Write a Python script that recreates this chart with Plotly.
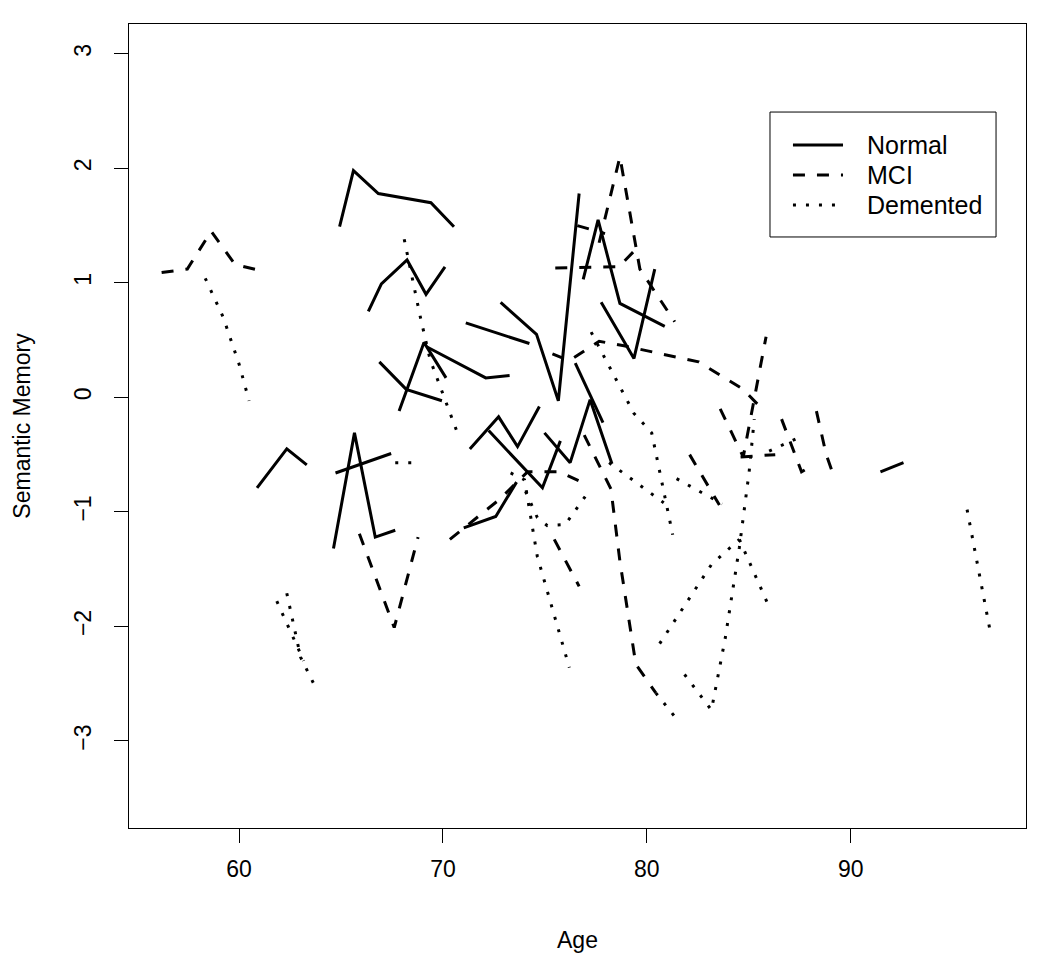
import plotly.graph_objects as go

# ---- data: each inner list is one subject's trajectory (Age, Semantic Memory) ----
normal_age = [
    [64.93, 65.61, 66.83, 69.41, 70.54],
    [66.34, 66.98, 68.24, 69.17, 70.10],
    [60.88, 62.34, 63.32],
    [64.63, 65.66, 66.68, 67.66],
    [64.73, 67.46],
    [66.88, 68.20, 69.95],
    [67.85, 69.07, 70.15],
    [69.22, 72.10, 73.27],
    [71.12, 74.24],
    [72.83, 74.59, 75.66, 76.68],
    [76.88, 77.61, 78.68, 80.88],
    [77.76, 79.37, 80.39],
    [71.32, 72.73, 73.66, 74.73],
    [72.24, 74.88, 75.76],
    [74.98, 76.24, 77.22, 78.29],
    [76.49, 77.85],
    [71.02, 72.59, 73.61],
    [91.46, 92.59],
]
normal_sm = [
    [1.49, 1.98, 1.78, 1.70, 1.49],
    [0.75, 0.99, 1.20, 0.90, 1.14],
    [-0.79, -0.45, -0.59],
    [-1.32, -0.31, -1.22, -1.16],
    [-0.66, -0.49],
    [0.31, 0.07, -0.03],
    [-0.12, 0.48, 0.17],
    [0.44, 0.17, 0.19],
    [0.65, 0.47],
    [0.83, 0.55, -0.03, 1.78],
    [1.03, 1.55, 0.82, 0.62],
    [0.83, 0.34, 1.12],
    [-0.45, -0.17, -0.43, -0.08],
    [-0.29, -0.79, -0.38],
    [-0.31, -0.57, -0.02, -0.58],
    [0.30, -0.22],
    [-1.14, -1.04, -0.74],
    [-0.65, -0.57],
]

mci_age = [
    [56.20, 57.46, 58.63, 59.80, 60.98],
    [65.90, 67.61, 68.78],
    [77.66, 78.68, 79.66, 81.37],
    [75.51, 78.63, 79.61],
    [76.59, 77.95],
    [75.37, 76.20, 77.66, 78.88, 82.54, 84.73, 85.76],
    [83.60, 84.73, 85.85],
    [84.60, 86.30],
    [86.61, 87.59, 88.17],
    [88.32, 88.80, 89.20],
    [70.34, 72.78, 74.15, 75.71, 76.68],
    [76.93, 78.24, 78.68, 79.46, 80.44],
    [75.46, 76.68],
    [82.10, 83.56],
]
mci_sm = [
    [1.09, 1.12, 1.45, 1.16, 1.11],
    [-1.19, -2.01, -1.22],
    [1.35, 2.10, 1.12, 0.66],
    [1.13, 1.14, 1.32],
    [1.50, 1.43],
    [0.38, 0.32, 0.49, 0.45, 0.31, 0.07, -0.12],
    [-0.10, -0.52, 0.53],
    [-0.52, -0.50],
    [-0.19, -0.65, -0.59],
    [-0.12, -0.50, -0.70],
    [-1.24, -0.89, -0.65, -0.65, -0.73],
    [-0.33, -0.80, -1.43, -2.33, -2.58],
    [-1.24, -1.65],
    [-0.50, -0.94],
]

dem_age = [
    [58.34, 59.22, 60.00, 60.49],
    [68.10, 68.88, 69.37, 70.73],
    [67.66, 68.78],
    [61.85, 63.17],
    [62.34, 63.02, 63.66],
    [73.32, 74.00, 74.63, 76.20],
    [74.05, 74.63, 75.12, 76.00, 77.12],
    [77.27, 79.37, 80.24, 81.27],
    [78.15, 80.83],
    [81.46, 83.70],
    [80.63, 83.17, 84.54],
    [81.85, 83.17, 83.85, 84.54, 85.02, 85.27],
    [84.54, 86.05],
    [95.71, 96.83],
    [86.00, 87.70],
    [80.44, 81.56],
]
dem_sm = [
    [1.04, 0.70, 0.29, -0.03],
    [1.38, 0.71, 0.33, -0.32],
    [-0.57, -0.57],
    [-1.78, -2.30],
    [-1.71, -2.27, -2.50],
    [-0.66, -0.72, -1.39, -2.36],
    [-0.82, -1.05, -1.12, -1.11, -0.83],
    [0.57, -0.14, -0.31, -1.20],
    [-0.57, -0.92],
    [-0.71, -0.93],
    [-2.15, -1.46, -1.24],
    [-2.42, -2.73, -2.10, -1.31, -0.65, -0.19],
    [-1.24, -1.85],
    [-0.98, -2.03],
    [-0.47, -0.33],
    [-2.58, -2.83],
]

x_ticks = [60, 70, 80, 90]
y_ticks = [-3, -2, -1, 0, 1, 2, 3]
legend_labels = ["Normal", "MCI", "Demented"]
line_dashes = ["solid", "12px,12px", "3px,10px"]

groups = [
    (legend_labels[0], normal_age, normal_sm, line_dashes[0]),
    (legend_labels[1], mci_age, mci_sm, line_dashes[1]),
    (legend_labels[2], dem_age, dem_sm, line_dashes[2]),
]

FONT = "Liberation Sans, Arial, Helvetica, sans-serif"

fig = go.Figure()
for name, ages, sms, dash in groups:
    for a, s in zip(ages, sms):
        fig.add_trace(go.Scatter(
            x=a, y=s, mode="lines", name=name, legendgroup=name,
            showlegend=False,
            line=dict(color="black", width=3, dash=dash),
            hoverinfo="skip",
        ))

# ---- legend drawn as a boxed key (paper coordinates) ----
lg_x0, lg_x1, lg_y0, lg_y1 = 0.7146, 0.9666, 0.7351, 0.8905
row_y = [0.8495, 0.8122, 0.7749]
fig.add_shape(type="rect", xref="paper", yref="paper",
              x0=lg_x0, x1=lg_x1, y0=lg_y0, y1=lg_y1,
              line=dict(color="black", width=1), fillcolor="white", layer="above")
for lab, dash, yy in zip(legend_labels, line_dashes, row_y):
    fig.add_shape(type="line", xref="paper", yref="paper",
                  x0=0.7402, x1=0.7960, y0=yy, y1=yy,
                  line=dict(color="black", width=3, dash=dash), layer="above")
    fig.add_annotation(xref="paper", yref="paper", x=0.8205, y=yy,
                       text=lab, showarrow=False, xanchor="left", yanchor="middle",
                       font=dict(family=FONT, size=25, color="black"))

axis_common = dict(
    showline=True, linecolor="black", linewidth=1, mirror=True,
    showgrid=False, zeroline=False, ticks="outside", ticklen=14,
    tickwidth=1, tickcolor="black",
    tickfont=dict(family=FONT, size=23, color="black"),
)

fig.update_layout(
    width=1042, height=962,
    margin=dict(l=121, r=24, t=16, b=142),
    paper_bgcolor="white", plot_bgcolor="white",
    font=dict(family=FONT, size=23, color="black"),
    xaxis=dict(range=[54.6, 98.6], tickvals=x_ticks, ticklabelstandoff=6,
               title=dict(text="Age", standoff=51,
                          font=dict(family=FONT, size=23)),
               **axis_common),
    yaxis=dict(range=[-3.76, 3.26], tickvals=y_ticks, tickangle=-90,
               ticklabelstandoff=14,
               title=dict(text="Semantic Memory", standoff=32,
                          font=dict(family=FONT, size=23)),
               **axis_common),
    showlegend=False,
)

fig.write_html("out.html")
